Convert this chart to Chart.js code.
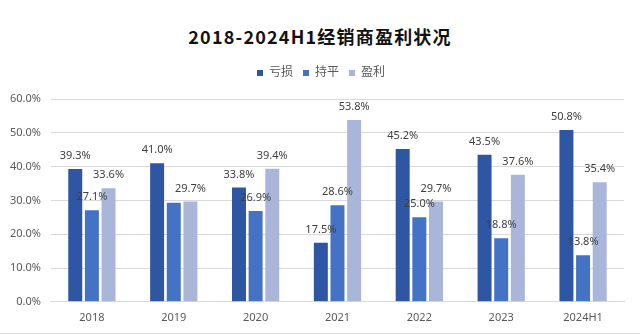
<!DOCTYPE html>
<html>
<head>
<meta charset="utf-8">
<script src="https://cdn.jsdelivr.net/npm/chart.js@4/dist/chart.umd.min.js"></script>
<style>
    html, body { margin: 0; padding: 0; background: #ffffff; }
    .chart-box {
        position: relative;
        width: 640px;
        height: 334px;
        box-sizing: border-box;
        border-bottom: 1px solid #e3e3e3;
    }
    .chart-title {
        position: absolute;
        left: 0;
        right: 0;
        top: 23px;
        text-align: center;
        font-family: "Noto Sans CJK SC", "Noto Sans", sans-serif;
        font-weight: 700;
        font-size: 18px;
        line-height: 26px;
        letter-spacing: 1.2px;
        color: #111111;
    }
    #profitChart { position: absolute; left: 0; top: 0; }
</style>
</head>
<body>
<div class="chart-box">
    <div class="chart-title">2018-2024H1经销商盈利状况</div>
    <canvas id="profitChart" width="640" height="333"></canvas>
</div>
<script>
const years = ["2018", "2019", "2020", "2021", "2022", "2023", "2024H1"];
const lossValues = [39.3, 41.0, 33.8, 17.5, 45.2, 43.5, 50.8];
const flatValues = [27.1, 29.3, 26.9, 28.6, 25.0, 18.8, 13.8];
const profitValues = [33.6, 29.7, 39.4, 53.8, 29.7, 37.6, 35.4];
const yTicks = [0, 10, 20, 30, 40, 50, 60];

// 2019 持平 has no value label
const unlabeled = [[1, 1]];

const FONT = "'Noto Sans', 'Noto Sans CJK SC', sans-serif";

const valueLabels = {
    id: "valueLabels",
    afterDatasetsDraw(chart) {
        const ctx = chart.ctx;
        ctx.save();
        ctx.font = `11px ${FONT}`;
        ctx.fillStyle = "#404040";
        ctx.textAlign = "center";
        ctx.textBaseline = "middle";
        chart.data.datasets.forEach((ds, di) => {
            chart.getDatasetMeta(di).data.forEach((bar, i) => {
                if (unlabeled.some(([d, c]) => d === di && c === i)) return;
                ctx.fillText(`${ds.data[i].toFixed(1)}%`, bar.x, bar.y - 13);
            });
        });
        ctx.restore();
    }
};

// extra room under the legend, and centre it a bit further right
const legendGap = {
    id: "legendGap",
    beforeInit(chart) {
        const fit = chart.legend.fit;
        chart.legend.fit = function () {
            fit.call(this);
            this.height += 10;
        };
    },
    afterLayout(chart) {
        chart.legend.left += 9;
        chart.legend.right += 9;
    }
};

new Chart(document.getElementById("profitChart"), {
    type: "bar",
    data: {
        labels: years,
        datasets: [
            { label: "亏损", data: lossValues, backgroundColor: "#2f56a3" },
            { label: "持平", data: flatValues, backgroundColor: "#4472c4" },
            { label: "盈利", data: profitValues, backgroundColor: "#a9b6da" }
        ]
    },
    options: {
        responsive: false,
        animation: false,
        datasets: {
            bar: { categoryPercentage: 0.61, barPercentage: 0.84 }
        },
        layout: { padding: { top: 57, left: 0, right: 16, bottom: 0 } },
        plugins: {
            title: { display: false },
            tooltip: { enabled: false },
            legend: {
                position: "top",
                labels: {
                    boxWidth: 6,
                    boxHeight: 6,
                    padding: 10,
                    color: "#595959",
                    font: { family: FONT, size: 12 }
                }
            }
        },
        scales: {
            x: {
                grid: { display: false, drawTicks: false },
                border: { color: "#d9d9d9" },
                ticks: { color: "#595959", padding: 9, font: { family: FONT, size: 11 } }
            },
            y: {
                min: 0,
                max: 60,
                afterBuildTicks(scale) { scale.ticks = yTicks.map(v => ({ value: v })); },
                grid: { color: "#d9d9d9", drawTicks: false },
                border: { display: false },
                ticks: {
                    color: "#595959",
                    padding: 10,
                    font: { family: FONT, size: 11 },
                    callback(value) { return `${value.toFixed(1)}%`; }
                }
            }
        }
    },
    plugins: [valueLabels, legendGap]
});
</script>
</body>
</html>
